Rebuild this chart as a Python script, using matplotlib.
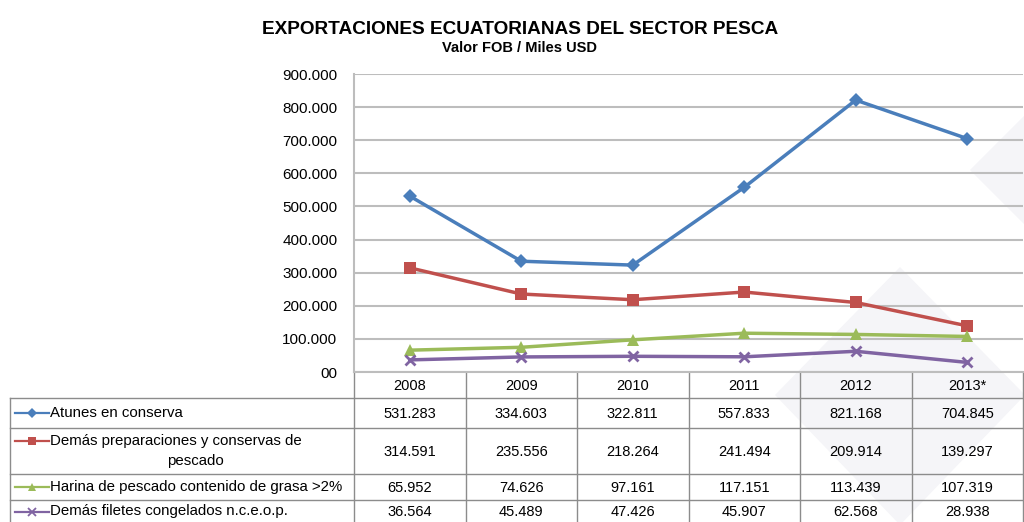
import matplotlib
matplotlib.use("Agg")
import matplotlib.pyplot as plt
from matplotlib.patches import Polygon

plt.rcParams['font.family'] = ['Liberation Sans', 'DejaVu Sans']

years = ['2008', '2009', '2010', '2011', '2012', '2013*']
atunes = [531283, 334603, 322811, 557833, 821168, 704845]
preparaciones = [314591, 235556, 218264, 241494, 209914, 139297]
harina = [65952, 74626, 97161, 117151, 113439, 107319]
filetes = [36564, 45489, 47426, 45907, 62568, 28938]

series = [
    ('Atunes en conserva', atunes, '#4a7ebb', 'D', 7),
    ('Demás preparaciones y conservas de\npescado', preparaciones, '#c0504d', 's', 8.5),
    ('Harina de pescado contenido de grasa >2%', harina, '#9bbb59', '^', 8),
    ('Demás filetes congelados n.c.e.o.p.', filetes, '#8064a2', 'x', 7.5),
]

def fmt(v):
    if v == 0:
        return '00'
    return f'{v:,.0f}'.replace(',', '.')

W, H = 1024, 522
fig = plt.figure(figsize=(W / 100, H / 100), dpi=100)

# background layer in pixel coords (watermark)
bg = fig.add_axes([0, 0, 1, 1], zorder=0)
bg.set_xlim(0, W)
bg.set_ylim(H, 0)
bg.axis('off')
wm = '#f5f5f8'
bg.add_patch(Polygon([(900, 267), (775, 395), (900, 525), (1025, 395)], closed=True, color=wm, lw=0))
bg.add_patch(Polygon([(1100, 40), (970, 170), (1100, 300)], closed=True, color=wm, lw=0))

left, right, top, bottom = 354, 1023, 74, 372
ax = fig.add_axes([left / W, 1 - bottom / H, (right - left) / W, (bottom - top) / H], zorder=2)
ax.set_facecolor('none')
for name, vals, col, mk, ms in series:
    ax.plot(range(len(years)), vals, color=col, lw=2.5, marker=mk, ms=ms,
            mew=2 if mk == 'x' else 0, mec=col, zorder=3)
ax.set_xlim(-0.5, len(years) - 0.5)
ax.set_ylim(0, 900000)
ticks = list(range(0, 900001, 100000))
ax.set_yticks(ticks)
ax.set_yticklabels([fmt(t) for t in ticks], fontsize=11)
ax.set_xticks([])
ax.tick_params(axis='y', length=0, pad=12)
ax.grid(axis='y', color='#bdbdbd', lw=1.5)
ax.set_axisbelow(True)
for s in ['top', 'right']:
    ax.spines[s].set_visible(False)
for s in ['left', 'bottom']:
    ax.spines[s].set_color('#bdbdbd')
    ax.spines[s].set_linewidth(1.5)

# data table
tab = fig.add_axes([0, 0, 1, 1], zorder=1)
tab.set_xlim(0, W)
tab.set_ylim(H, 0)
tab.axis('off')
lc = '#8c8c8c'
colw = (right - left) / len(years)
row_edges = [372, 398, 428, 474, 500, 523]
for i in range(len(years) + 1):
    x = left + i * colw
    tab.plot([x, x], [372, 523], color=lc, lw=1)
tab.plot([10, 10], [398, 523], color=lc, lw=1)
for y in row_edges[1:]:
    tab.plot([10, right], [y, y], color=lc, lw=1)
for i, yr in enumerate(years):
    tab.text(left + (i + 0.5) * colw, 386, yr, ha='center', va='center', fontsize=10.5)
for r, (name, vals, col, mk, ms) in enumerate(series):
    yc = (row_edges[r + 1] + row_edges[r + 2]) / 2
    for i, v in enumerate(vals):
        tab.text(left + (i + 0.5) * colw, yc + 1, fmt(v), ha='center', va='center', fontsize=10.5)
    ky = yc if r != 1 else 441
    tab.plot([15, 49], [ky, ky], color=col, lw=1.6)
    tab.plot([32], [ky], color=col, marker=mk, ms=ms * 0.7, mew=1.3 if mk == 'x' else 0, mec=col)
    if r == 1:
        l1, l2 = name.split('\n')
        tab.text(50, 441, l1, ha='left', va='center', fontsize=10.8)
        tab.text(195, 461, l2, ha='center', va='center', fontsize=10.8)
    else:
        tab.text(50, yc, name, ha='left', va='center', fontsize=10.8)

fig.text(520 / W, 1 - 30 / H, 'EXPORTACIONES ECUATORIANAS DEL SECTOR PESCA',
         ha='center', va='center', fontsize=13.7, fontweight='bold')
fig.text(519 / W, 1 - 48 / H, 'Valor FOB / Miles USD',
         ha='center', va='center', fontsize=10.5, fontweight='bold')

fig.savefig('out.png', dpi=100)
